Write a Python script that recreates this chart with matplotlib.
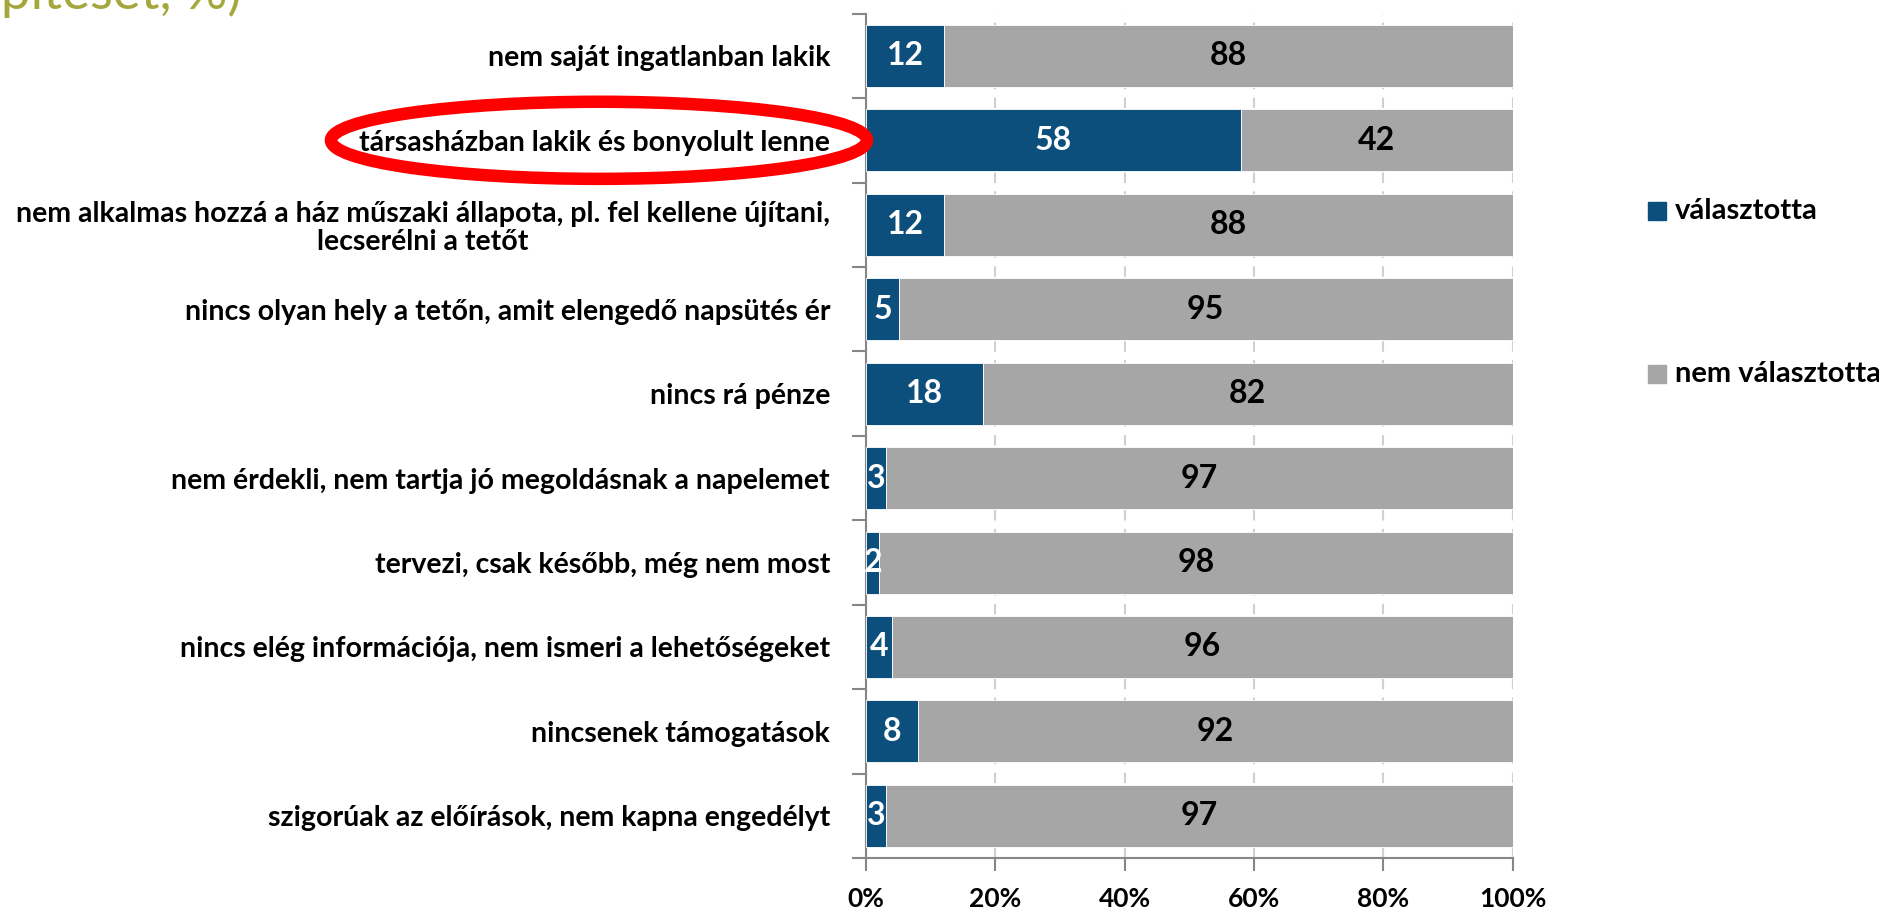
import matplotlib
matplotlib.use("Agg")
import matplotlib.pyplot as plt
from matplotlib.patches import Ellipse, Rectangle
import numpy as np

categories = [
    "nem saját ingatlanban lakik",
    "társasházban lakik és bonyolult lenne",
    "nem alkalmas hozzá a ház műszaki állapota, pl. fel kellene újítani,\nlecserélni a tetőt",
    "nincs olyan hely a tetőn, amit elengedő napsütés ér",
    "nincs rá pénze",
    "nem érdekli, nem tartja jó megoldásnak a napelemet",
    "tervezi, csak később, még nem most",
    "nincs elég információja, nem ismeri a lehetőségeket",
    "nincsenek támogatások",
    "szigorúak az előírások, nem kapna engedélyt",
]
chosen = [12, 58, 12, 5, 18, 3, 2, 4, 8, 3]
not_chosen = [88, 42, 88, 95, 82, 97, 98, 96, 92, 97]
series_names = ["választotta", "nem választotta"]
x_ticks = [0, 20, 40, 60, 80, 100]
x_tick_labels = ["0%", "20%", "40%", "60%", "80%", "100%"]
title_fragment = "építését, %)"

BLUE = "#0C4F7D"
GRAY = "#A6A6A6"
FONT = ["Lato", "DejaVu Sans"]
plt.rcParams["font.family"] = FONT

W, H = 1879, 909
fig = plt.figure(figsize=(W / 100, H / 100), dpi=100)
ax_pos = [0.461, 0.056, 0.344, 0.929]
ax = fig.add_axes(ax_pos)

y = np.arange(len(categories))
h = 0.735
ax.barh(y, chosen, height=h, color=BLUE, edgecolor="white", linewidth=0.6, zorder=3)
ax.barh(y, not_chosen, left=chosen, height=h, color=GRAY, edgecolor="white", linewidth=0.6, zorder=3)

for yi, c, n in zip(y, chosen, not_chosen):
    ax.text(c / 2, yi, str(c), ha="center", va="center", color="white",
            fontsize=23, fontweight="bold", zorder=4)
    ax.text(c + n / 2, yi, str(n), ha="center", va="center", color="black",
            fontsize=23, fontweight="bold", zorder=4)

ax.set_xlim(0, 100)
ax.set_ylim(len(categories) - 0.5, -0.5)
ax.set_xticks(x_ticks)
ax.set_xticklabels(x_tick_labels, fontsize=19, fontweight="bold")
ax.set_yticks(y)
ax.set_yticklabels(categories, fontsize=20.5, fontweight="bold")
for lab in ax.get_yticklabels():
    lab.set_multialignment("center")
    lab.set_linespacing(1.1)
ax.set_yticks(np.arange(len(categories) + 1) - 0.5, minor=True)
ax.tick_params(axis="y", which="major", length=0, pad=26)
ax.tick_params(axis="y", which="minor", length=10, color="#868686", width=1.5)
ax.tick_params(axis="x", which="major", length=9, color="#868686", width=1.5, pad=12)

ax.grid(axis="x", color="#D0D0D0", linestyle=(0, (5, 4)), linewidth=1.5, zorder=0)
for s in ["top", "right"]:
    ax.spines[s].set_visible(False)
for s in ["left", "bottom"]:
    ax.spines[s].set_color("#868686")
    ax.spines[s].set_linewidth(1.5)

# legend
sq_w, sq_h = 18 / W, 18 / H
for name, col, yc in [(series_names[0], BLUE, 0.768), (series_names[1], GRAY, 0.589)]:
    fig.patches.append(Rectangle((1648 / W, yc - sq_h / 2), sq_w, sq_h,
                                 transform=fig.transFigure, color=col))
    fig.text(1675 / W, yc, name, fontsize=21, fontweight="bold", va="center", ha="left")

# cut-off title fragment at top-left (cropped in the original)
fig.text(242 / W, 1 - 9 / H, title_fragment, color="#A4A83C", fontsize=38,
         ha="right", va="baseline")

# red highlight ellipse around the second category label
row_h = ax_pos[3] / len(categories)
ell_cy = ax_pos[1] + ax_pos[3] - 1.5 * row_h
ell = Ellipse((599 / W, ell_cy), 536 / W, row_h * 0.913, transform=fig.transFigure,
              fill=False, edgecolor="#FF0000", linewidth=9, zorder=10)
fig.patches.append(ell)

fig.savefig("out.png", dpi=100)
